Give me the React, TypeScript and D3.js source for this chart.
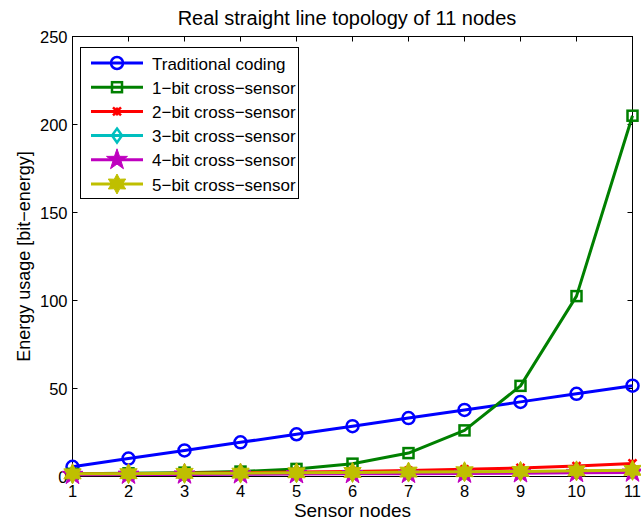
import React from "react";
import * as d3 from "d3";

const nodes = [1, 2, 3, 4, 5, 6, 7, 8, 9, 10, 11];
const traditional = [5.5, 10.2, 14.8, 19.4, 24.0, 28.6, 33.2, 37.8, 42.4, 47.0, 51.6];
const bit1 = [1.5, 1.8, 2.2, 2.8, 4.3, 7.3, 13.3, 26.2, 51.5, 102.5, 205];
const bit2 = [1.4, 1.6, 1.9, 2.2, 2.5, 2.9, 3.4, 4.1, 4.9, 5.9, 7.4];
const bit3 = [1.2, 1.3, 1.4, 1.6, 1.7, 1.9, 2.1, 2.3, 2.6, 2.9, 3.2];
const bit4 = [1.0, 1.1, 1.2, 1.3, 1.4, 1.5, 1.6, 1.7, 1.9, 2.1, 2.3];
const bit5 = [1.5, 1.6, 1.8, 1.9, 2.1, 2.3, 2.5, 2.7, 2.9, 3.2, 3.5];
const yTicks = [0, 50, 100, 150, 200, 250];
const seriesNames = [
  "Traditional coding",
  "1\u2212bit cross\u2212sensor",
  "2\u2212bit cross\u2212sensor",
  "3\u2212bit cross\u2212sensor",
  "4\u2212bit cross\u2212sensor",
  "5\u2212bit cross\u2212sensor",
];
const seriesColors = ["#0000ff", "#008000", "#ff0000", "#00bfbf", "#bf00bf", "#bfbf00"];
const seriesMarkers = ["circle", "square", "x", "diamond", "pentagram", "hexagram"];
const seriesData = [traditional, bit1, bit2, bit3, bit4, bit5];

const W = 641;
const H = 525;
const L = 72.5, R = 632.5, T = 36.5, B = 476.5;
const FONT = "'Liberation Sans', Arial, Helvetica, sans-serif";

function starPath(points: number, rOuter: number, rInner: number) {
  const pts: [number, number][] = [];
  for (let i = 0; i < points * 2; i++) {
    const a = -Math.PI / 2 + (i * Math.PI) / points;
    const r = i % 2 === 0 ? rOuter : rInner;
    pts.push([r * Math.cos(a), r * Math.sin(a)]);
  }
  return "M" + pts.map((p) => p.join(",")).join("L") + "Z";
}

function Marker({ type, x, y, color }: { type: string; x: number; y: number; color: string }) {
  const sw = 2.5;
  switch (type) {
    case "circle":
      return <circle cx={x} cy={y} r={6} fill="none" stroke={color} strokeWidth={sw} />;
    case "square":
      return <rect x={x - 5} y={y - 5} width={10} height={10} fill="none" stroke={color} strokeWidth={sw} />;
    case "x":
      return (
        <path
          d={`M${x - 4},${y - 4}L${x + 4},${y + 4}M${x - 4},${y + 4}L${x + 4},${y - 4}M${x},${y - 4}L${x},${y + 4}`}
          stroke={color}
          strokeWidth={sw}
          fill="none"
        />
      );
    case "diamond":
      return (
        <path d={`M${x},${y - 7}L${x + 5},${y}L${x},${y + 7}L${x - 5},${y}Z`} fill="none" stroke={color} strokeWidth={sw} />
      );
    case "pentagram":
      return <path d={starPath(5, 11, 4.3)} transform={`translate(${x},${y})`} fill={color} stroke={color} strokeWidth={1} />;
    case "hexagram":
      return <path d={starPath(6, 10, 5.5)} transform={`translate(${x},${y})`} fill={color} stroke={color} strokeWidth={1} />;
  }
  return null;
}

export default function App() {
  const x = d3.scaleLinear().domain([1, 11]).range([L, R]);
  const y = d3.scaleLinear().domain([0, 250]).range([B, T]);
  const line = d3
    .line<number>()
    .x((_, i) => x(nodes[i]))
    .y((d) => y(d));

  const legX = 80.5, legY = 47.5, legW = 218, legH = 151, rowH = 24.2;

  return (
    <svg width={W} height={H} style={{ position: "absolute", left: 0, top: 0, background: "#fff" }} fontFamily={FONT}>
      <rect x={0} y={0} width={W} height={H} fill="#fff" />
      {/* axes box */}
      <rect x={L} y={T} width={R - L} height={B - T} fill="#fff" stroke="#000" strokeWidth={1} />
      {/* ticks */}
      {nodes.map((n) => (
        <g key={"xt" + n}>
          <line x1={x(n)} x2={x(n)} y1={B} y2={B - 5} stroke="#000" />
          <line x1={x(n)} x2={x(n)} y1={T} y2={T + 5} stroke="#000" />
          <text x={x(n)} y={497} fontSize={16.5} textAnchor="middle" fill="#000">
            {n}
          </text>
        </g>
      ))}
      {yTicks.map((t) => (
        <g key={"yt" + t}>
          <line x1={L} x2={L + 5} y1={y(t)} y2={y(t)} stroke="#000" />
          <line x1={R} x2={R - 5} y1={y(t)} y2={y(t)} stroke="#000" />
          <text x={L - 5} y={y(t) + 6} fontSize={16.5} textAnchor="end" fill="#000">
            {t}
          </text>
        </g>
      ))}
      {/* series */}
      {seriesData.map((data, si) => (
        <g key={"s" + si}>
          <path d={line(data) || ""} fill="none" stroke={seriesColors[si]} strokeWidth={3} strokeLinejoin="round" />
          {data.map((v, i) => (
            <Marker key={i} type={seriesMarkers[si]} x={x(nodes[i])} y={y(v)} color={seriesColors[si]} />
          ))}
        </g>
      ))}
      {/* legend */}
      <rect x={legX} y={legY} width={legW} height={legH} fill="#fff" stroke="#000" strokeWidth={1} />
      {seriesNames.map((name, i) => {
        const cy = legY + 15.5 + i * rowH;
        return (
          <g key={"lg" + i}>
            <line x1={91} x2={143} y1={cy} y2={cy} stroke={seriesColors[i]} strokeWidth={3} />
            <Marker type={seriesMarkers[i]} x={117} y={cy} color={seriesColors[i]} />
            <text x={152} y={cy + 6.5} fontSize={17} fill="#000">
              {name}
            </text>
          </g>
        );
      })}
      {/* title & labels */}
      <text x={347} y={25} fontSize={20} textAnchor="middle" fill="#000">
        Real straight line topology of 11 nodes
      </text>
      <text x={(L + R) / 2} y={517} fontSize={19} textAnchor="middle" fill="#000">
        Sensor nodes
      </text>
      <text
        transform={`translate(30,${(T + B) / 2}) rotate(-90)`}
        fontSize={18}
        textAnchor="middle"
        fill="#000"
      >
        Energy usage [bit−energy]
      </text>
    </svg>
  );
}
